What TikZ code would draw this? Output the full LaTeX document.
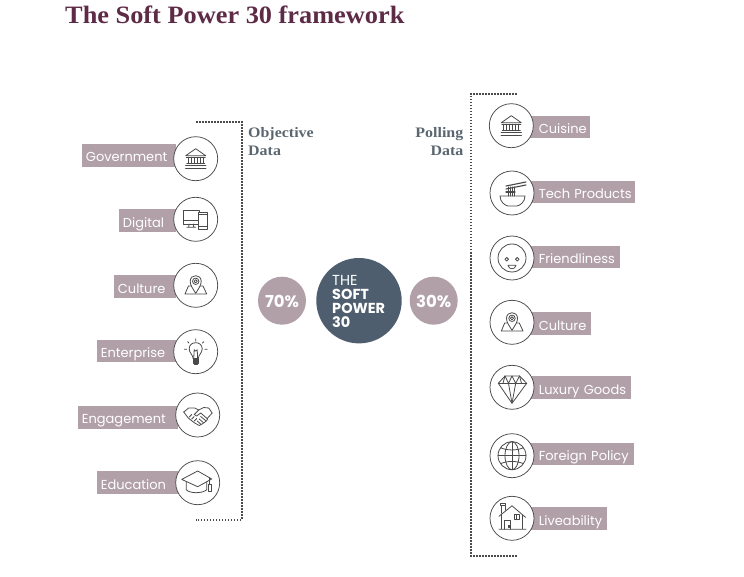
\documentclass[tikz,border=0pt]{standalone}
\usepackage{fontspec}
\setmainfont{Liberation Serif}
\newfontfamily\labfont{Poppins}
\newfontfamily\ttlfont[FakeStretch=1.053]{Liberation Serif}
\newfontfamily\hdfont[FakeStretch=1.1]{Liberation Serif}
\definecolor{mauve}{HTML}{B2A0A8}
\definecolor{slatec}{HTML}{4F5E6E}
\definecolor{titlec}{HTML}{5E2B47}
\definecolor{headc}{HTML}{5B6670}
\definecolor{iconc}{HTML}{4A4A4A}
\newcommand\padd[1]{\hspace*{#1pt}}
\tikzset{
 lab/.style={fill=mauve,text=white,inner xsep=0pt,inner ysep=0pt,minimum height=22.6pt,text height=15pt,text depth=1.6pt,align=left,font=\labfont\fontsize{13}{14}\selectfont},
 ring/.style={circle,draw=iconc,fill=white,line width=0.75pt,minimum size=44pt,inner sep=0pt},
 pct/.style={circle,fill=mauve,text=white,minimum size=48pt,inner sep=0pt,text height=13pt,text depth=0pt,font=\labfont\bfseries\fontsize{16.5}{18}\selectfont},
 brk/.style={draw=iconc,line width=1.8pt,dash pattern=on 1.5pt off 1.5pt},
 ico/.style={draw=iconc,line width=0.8pt,line join=round,line cap=round},
 head/.style={text=headc,inner sep=0pt,font=\hdfont\bfseries\fontsize{14.5}{18}\selectfont},
}
\newcommand\iconbank{%
 \draw[ico] (-10,-3)--(0,-10)--(10,-3)--cycle;
 \draw[ico] (-9.5,-1.5)--(9.5,-1.5) (-9,5)--(9,5);
 \foreach \cx in {-7.5,-4.5,-1.5,1.5,4.5,7.5} \draw[ico] (\cx,-1.5)--(\cx,5);
 \draw[ico,line width=1.3pt] (-10,7)--(10,7) (-10,9.5)--(10,9.5);
}
\newcommand\icondevices{%
 \draw[ico] (-12.3,-9.3) rectangle (3.7,4.7);
 \draw[ico] (-12.3,1.5)--(3.7,1.5);
 \draw[ico] (-6.5,4.7)--(-7,7.5) (-2.5,4.7)--(-2,7.5) (-9,8)--(0,8);
 \draw[ico,fill=white] (2.7,-6.7) rectangle (11.7,9.7);
 \draw[ico] (2.7,7)--(11.7,7) (2.7,-4.5)--(11.7,-4.5);
}
\newcommand\iconpin{%
 \draw[ico] (-7.3,0.7)--(7.3,0.7)--(11,8.7)--(-10.7,8.7)--cycle;
 \draw[ico,fill=white] (0,8) .. controls (-3,3) and (-5.5,0) .. (-5.5,-4) .. controls (-5.5,-11.5) and (5.5,-11.5) .. (5.5,-4) .. controls (5.5,0) and (3,3) .. (0,8) -- cycle;
 \draw[ico] (0,-4) circle (3.2);
 \draw[ico] (0,-4) circle (1.6);
}
\newcommand\iconbulb{%
 \draw[ico] (-2.5,7) .. controls (-3,2.5) and (-6.5,1.5) .. (-6.5,-3) .. controls (-6.5,-11) and (6.5,-11) .. (6.5,-3) .. controls (6.5,1.5) and (3,2.5) .. (2.5,7) -- cycle;
 \draw[ico] (-2,7)--(-1.5,-2)--(0,-0.5)--(1.5,-2)--(2,7);
 \draw[ico,fill=iconc] (-2.7,7) rectangle (2.7,11.5);
 \draw[ico,fill=iconc] (-1.5,11.5) rectangle (1.5,13);
 \draw[ico] (0,-13)--(0,-10.5) (-8,-10)--(-6.6,-8.5) (8,-10)--(6.6,-8.5) (-11.5,-2.5)--(-9,-2.5) (11.5,-2.5)--(9,-2.5);
}
\newcommand\iconshake{%
 \draw[ico] (-14,-3)--(-9,-7)--(-3,-7)--(1,-5)--(6,-7.5)--(11,-7)--(14.5,-2)--(9.5,3.5);
 \draw[ico] (1,-5)--(-3.5,-0.5)--(-1,1)--(3,-2)--(10,4)--(8.5,6)--(3,1.5);
 \draw[ico] (8.5,6)--(6,8)--(1.5,4) (6,8)--(3.5,9.5)--(-0.5,6) (3.5,9.5)--(1.5,10.5)--(-3,8)--(-9.5,3)--(-14,-3);
 \draw[ico] (-8.5,2)--(-6,-0.5) (-6,4)--(-3.5,1.5) (-3.5,6)--(-1,3.5);
}
\newcommand\iconcap{%
 \draw[ico] (-16,-3.3)--(0,-11.7)--(14,-3.7)--(0,4)--cycle;
 \draw[ico] (-11.5,-1)--(-11.5,7) .. controls (-8,11) and (5,11) .. (9,7) -- (9,-1);
 \draw[ico] (12,-5)--(12,2);
 \draw[ico,fill=white] (10.5,2) rectangle (14,8.5);
}
\newcommand\iconbowl{%
 \draw[ico] (-12,3) -- (13,3) .. controls (13,9) and (8,12.5) .. (5,13) -- (-4,13) .. controls (-7,12.5) and (-12,9) .. (-12,3) -- cycle;
 \draw[ico,line width=1.1pt] (-6,-7)--(14,-11) (-6,-4)--(14,-8);
 \draw[ico,line width=1.1pt] (-6,-1)--(3,-1);
 \foreach \cx in {-4,-2,0,2} \draw[ico,line width=1pt] (\cx,-6)--(\cx,3);
}
\newcommand\iconface{%
 \draw[ico] (0,0) circle (14);
 \draw[ico] (-5.3,1.3) circle (1.8);
 \draw[ico] (5.3,1.3) circle (1.8);
 \draw[ico] (-4,7.3)--(4,7.3) .. controls (3,12) and (-3,12) .. (-4,7.3) -- cycle;
}
\newcommand\icongem{%
 \draw[ico] (-7,-11.3)--(7.5,-11.3)--(14.7,-4)--(0,16)--(-13.7,-4)--cycle;
 \draw[ico] (-13.7,-4)--(14.7,-4);
 \draw[ico] (-7,-11.3)--(-3.5,-4)--(0,-11.3)--(3.7,-4)--(7.5,-11.3);
 \draw[ico] (-7,-11.3)--(-9,-4) (7.5,-11.3)--(9.5,-4);
 \draw[ico] (-3.5,-4)--(0,16)--(3.7,-4);
}
\newcommand\iconglobe{%
 \draw[ico] (0,0) circle (14);
 \draw[ico] (0,0) ellipse (7 and 14);
 \draw[ico] (0,-14)--(0,14) (-14,0)--(14,0);
 \draw[ico] (-11.5,-8) .. controls (-5,-5) and (5,-5) .. (11.5,-8);
 \draw[ico] (-11.5,8) .. controls (-5,5) and (5,5) .. (11.5,8);
}
\newcommand\iconhouse{%
 \draw[ico] (-13,-2)--(0,-12.5)--(13.5,-1) (-10.5,-3.5)--(-10.5,11) (10.5,-3)--(10.5,11) (-13,11)--(14,11);
 \draw[ico] (-11,-5)--(-11,-12) (-7,-8)--(-7,-12) (-12,-12.5) rectangle (-6.5,-14.5);
 \draw[ico] (2,-3.5) rectangle (7,1.5) (4.5,-3.5)--(4.5,1.5);
 \draw[ico] (-7.5,11)--(-7.5,2.5)--(-2,2.5)--(-2,11);
 \draw[ico,fill=iconc] (-3.5,7.5) rectangle (-2,9.5);
}
\begin{document}
\begin{tikzpicture}[x=1pt,y=-1pt]
\useasboundingbox (0,0) rectangle (744,577);
\node[anchor=base west,inner sep=0pt,text=titlec,font=\ttlfont\bfseries\fontsize{25}{28}\selectfont] (title) at (65,24) {The Soft Power 30 framework};
% brackets
\coordinate (la) at (196,121.7); \coordinate (lb) at (241.6,121.7); \coordinate (lc) at (241.6,519.7); \coordinate (ld) at (196,519.7);
\draw[brk] (la)--(lb)--(lc)--(ld);
\coordinate (ra) at (516.7,93.7); \coordinate (rb) at (471,93.7); \coordinate (rc) at (471,555.7); \coordinate (rd) at (516.7,555.7);
\draw[brk] (ra)--(rb)--(rc)--(rd);
\node[head,anchor=north west,align=left] (objd) at (248,127.5) {Objective\\Data};
\node[head,anchor=north east,align=right] (pold) at (463.5,127.5) {Polling\\Data};
% left labels
\node[lab,anchor=west,text width=94pt] (lgov) at (82,155.3) {\padd{3.7}Government};
\node[lab,anchor=west,text width=57pt] (ldig) at (119,220.5) {\padd{3.7}Digital};
\node[lab,anchor=west,text width=62pt] (lcul) at (114,286.7) {\padd{3.7}Culture};
\node[lab,anchor=west,text width=79pt] (lent) at (97,351) {\padd{3.7}Enterprise};
\node[lab,anchor=west,text width=100pt] (leng) at (78,417.2) {\padd{3.7}Engagement};
\node[lab,anchor=west,text width=81pt] (ledu) at (97,482.3) {\padd{3.7}Education};
% right labels
\node[lab,anchor=east,text width=65pt] (rcui) at (590,127) {\padd{14}Cuisine};
\node[lab,anchor=east,text width=110pt] (rtec) at (635,192.2) {\padd{14}Tech Products};
\node[lab,anchor=east,text width=95pt] (rfri) at (620,257.2) {\padd{14}Friendliness};
\node[lab,anchor=east,text width=65.7pt] (rcul) at (590.7,323.3) {\padd{14}Culture};
\node[lab,anchor=east,text width=105.7pt] (rlux) at (630.7,387.5) {\padd{14}Luxury Goods};
\node[lab,anchor=east,text width=109pt] (rfor) at (634,453.8) {\padd{14}Foreign Policy};
\node[lab,anchor=east,text width=81.7pt] (rliv) at (606.7,518.5) {\padd{14}Liveability};
% circles
\node[ring] (cgov) at (195.7,158.7) {};
\node[ring] (cdig) at (195.7,219.3) {};
\node[ring] (ccul) at (195.7,285.3) {};
\node[ring] (cent) at (195.7,351.7) {};
\node[ring] (ceng) at (197.7,415) {};
\node[ring] (cedu) at (197.7,482.7) {};
\node[ring] (dcui) at (511.3,125.7) {};
\node[ring] (dtec) at (512,193) {};
\node[ring] (dfri) at (512,258) {};
\node[ring] (dcul) at (512,322.3) {};
\node[ring] (dlux) at (512,387.3) {};
\node[ring] (dfor) at (512,455.7) {};
\node[ring] (dliv) at (512,518.3) {};
% icons
\begin{scope}[shift={(cgov.center)}]\iconbank\end{scope}
\begin{scope}[shift={(cdig.center)}]\icondevices\end{scope}
\begin{scope}[shift={(ccul.center)}]\iconpin\end{scope}
\begin{scope}[shift={(cent.center)}]\iconbulb\end{scope}
\begin{scope}[shift={(ceng.center)}]\iconshake\end{scope}
\begin{scope}[shift={(cedu.center)}]\iconcap\end{scope}
\begin{scope}[shift={(dcui.center)}]\iconbank\end{scope}
\begin{scope}[shift={(dtec.center)}]\iconbowl\end{scope}
\begin{scope}[shift={(dfri.center)}]\iconface\end{scope}
\begin{scope}[shift={(dcul.center)}]\iconpin\end{scope}
\begin{scope}[shift={(dlux.center)}]\icongem\end{scope}
\begin{scope}[shift={(dfor.center)}]\iconglobe\end{scope}
\begin{scope}[shift={(dliv.center)}]\iconhouse\end{scope}
% centre
\node[circle,fill=slatec,minimum size=85.4pt,inner sep=0pt] (core) at (359,300.7) {};
\node[anchor=north west,inner sep=0pt,text=white,align=left,font=\labfont\bfseries\fontsize{14.5}{14}\selectfont] (coretxt) at (332,275.5) {{\mdseries THE}\\SOFT\\POWER\\30};
\node[pct] (p70) at (282,300.7) {70\%};
\node[pct] (p30) at (433.7,300.7) {30\%};
\end{tikzpicture}
\end{document}
